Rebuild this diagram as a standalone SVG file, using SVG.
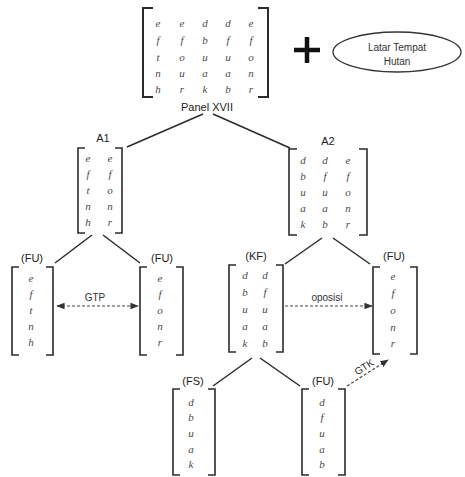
<svg xmlns="http://www.w3.org/2000/svg" width="465" height="477" viewBox="0 0 465 477">
  <style>
    .br { fill: none; stroke: #2b2b2b; stroke-width: 1.6; }
    .brt { fill: none; stroke: #2b2b2b; stroke-width: 2; }
    .v { font-family: "Liberation Serif", "DejaVu Serif", serif; font-style: italic; font-size: 11px; fill: #4a4a4a; text-anchor: middle; dominant-baseline: central; }
    .lb { font-family: "Liberation Sans", Arial, sans-serif; font-size: 11px; fill: #222; text-anchor: middle; dominant-baseline: central; }
    .sm { font-family: "Liberation Sans", Arial, sans-serif; font-size: 10px; fill: #333; text-anchor: middle; dominant-baseline: central; }
    .edge { stroke: #2b2b2b; stroke-width: 1.5; fill: none; }
    .dash { stroke: #444; stroke-width: 1.2; stroke-dasharray: 3 2; fill: none; }
  </style>
  <defs>
    <marker id="ah" viewBox="0 0 10 10" refX="9" refY="5" markerWidth="7" markerHeight="7" orient="auto-start-reverse">
      <path d="M0,1 L10,5 L0,9 z" fill="#333"/>
    </marker>
  </defs>

  <!-- root matrix -->
  <g id="panel">
    <path class="brt" d="M153,8 H143 V97 H153"/>
    <path class="brt" d="M258,8 H268 V97 H258"/>
    <text class="v" x="158" y="23">e</text><text class="v" x="182" y="23">e</text><text class="v" x="205" y="23">d</text><text class="v" x="228" y="23">d</text><text class="v" x="251" y="23">e</text>
    <text class="v" x="158" y="40">f</text><text class="v" x="182" y="40">f</text><text class="v" x="205" y="40">b</text><text class="v" x="228" y="40">f</text><text class="v" x="251" y="40">f</text>
    <text class="v" x="158" y="57">t</text><text class="v" x="182" y="57">o</text><text class="v" x="205" y="57">u</text><text class="v" x="228" y="57">u</text><text class="v" x="251" y="57">o</text>
    <text class="v" x="158" y="73">n</text><text class="v" x="182" y="73">u</text><text class="v" x="205" y="73">a</text><text class="v" x="228" y="73">a</text><text class="v" x="251" y="73">n</text>
    <text class="v" x="158" y="89">h</text><text class="v" x="182" y="89">r</text><text class="v" x="205" y="89">k</text><text class="v" x="228" y="89">b</text><text class="v" x="251" y="89">r</text>
    <text class="lb" x="207" y="107">Panel XVII</text>
  </g>

  <!-- plus sign -->
  <g id="plus">
    <path d="M294,50 H320 M307,37 V63" stroke="#111" stroke-width="4.5" fill="none"/>
  </g>

  <!-- setting -->
  <g id="setting">
    <ellipse cx="397" cy="52" rx="64" ry="20" fill="#fff" stroke="#333" stroke-width="1.3"/>
    <text class="sm" x="397" y="47">Latar Tempat</text>
    <text class="sm" x="397" y="61">Hutan</text>
  </g>

  <!-- connectors -->
  <g id="connectors">
    <path class="edge" d="M203,114 L127,147"/>
    <path class="edge" d="M213,114 L290,148"/>
    <path class="edge" d="M92,235 L55,263"/>
    <path class="edge" d="M103,235 L140,263"/>
    <path class="edge" d="M322,238 L285,264"/>
    <path class="edge" d="M333,238 L370,264"/>
    <path class="edge" d="M252,358 L213,386"/>
    <path class="edge" d="M260,358 L300,386"/>
    <path class="dash" d="M57,306 H138" marker-start="url(#ah)" marker-end="url(#ah)"/>
    <text class="sm" x="95" y="297">GTP</text>
    <path class="dash" d="M285,306 H372" marker-end="url(#ah)"/>
    <text class="sm" x="327" y="297">oposisi</text>
    <path class="dash" d="M347,386 L388,360" marker-end="url(#ah)"/>
    <text class="sm" x="364" y="367" transform="rotate(-32 364 367)">GTK</text>
  </g>

  <!-- A1 -->
  <g id="a1">
    <text class="lb" x="103" y="138">A1</text>
    <path class="br" d="M85,148 H78 V233 H85"/>
    <path class="br" d="M115,148 H122 V233 H115"/>
    <text class="v" x="88" y="158">e</text><text class="v" x="110" y="158">e</text>
    <text class="v" x="88" y="174">f</text><text class="v" x="110" y="174">f</text>
    <text class="v" x="88" y="190">t</text><text class="v" x="110" y="190">o</text>
    <text class="v" x="88" y="206">n</text><text class="v" x="110" y="206">n</text>
    <text class="v" x="88" y="222">h</text><text class="v" x="110" y="222">r</text>
  </g>

  <!-- A2 -->
  <g id="a2">
    <text class="lb" x="328" y="141">A2</text>
    <path class="br" d="M297,149 H289 V235 H297"/>
    <path class="br" d="M359,149 H367 V235 H359"/>
    <text class="v" x="303" y="160">d</text><text class="v" x="325" y="160">d</text><text class="v" x="348" y="160">e</text>
    <text class="v" x="303" y="176">b</text><text class="v" x="325" y="176">f</text><text class="v" x="348" y="176">f</text>
    <text class="v" x="303" y="192">u</text><text class="v" x="325" y="192">u</text><text class="v" x="348" y="192">o</text>
    <text class="v" x="303" y="208">a</text><text class="v" x="325" y="208">a</text><text class="v" x="348" y="208">n</text>
    <text class="v" x="303" y="224">k</text><text class="v" x="325" y="224">b</text><text class="v" x="348" y="224">r</text>
  </g>

  <!-- FU under A1, left -->
  <g id="fu1">
    <text class="lb" x="32" y="258">(FU)</text>
    <path class="br" d="M19,267 H12 V355 H19"/>
    <path class="br" d="M46,267 H53 V355 H46"/>
    <text class="v" x="31" y="278">e</text>
    <text class="v" x="31" y="294">f</text>
    <text class="v" x="31" y="310">t</text>
    <text class="v" x="31" y="326">n</text>
    <text class="v" x="31" y="342">h</text>
  </g>

  <!-- FU under A1, right -->
  <g id="fu2">
    <text class="lb" x="162" y="258">(FU)</text>
    <path class="br" d="M147,267 H140 V355 H147"/>
    <path class="br" d="M176,267 H183 V355 H176"/>
    <text class="v" x="160" y="278">e</text>
    <text class="v" x="160" y="294">f</text>
    <text class="v" x="160" y="310">o</text>
    <text class="v" x="160" y="326">n</text>
    <text class="v" x="160" y="342">r</text>
  </g>

  <!-- KF under A2 -->
  <g id="kf">
    <text class="lb" x="256" y="256">(KF)</text>
    <path class="br" d="M236,265 H229 V352 H236"/>
    <path class="br" d="M276,265 H283 V352 H276"/>
    <text class="v" x="245" y="275">d</text><text class="v" x="265" y="275">d</text>
    <text class="v" x="245" y="292">b</text><text class="v" x="265" y="292">f</text>
    <text class="v" x="245" y="309">u</text><text class="v" x="265" y="309">u</text>
    <text class="v" x="245" y="326">a</text><text class="v" x="265" y="326">a</text>
    <text class="v" x="245" y="343">k</text><text class="v" x="265" y="343">b</text>
  </g>

  <!-- FU under A2 -->
  <g id="fu3">
    <text class="lb" x="394" y="256">(FU)</text>
    <path class="br" d="M380,267 H373 V354 H380"/>
    <path class="br" d="M410,267 H417 V354 H410"/>
    <text class="v" x="393" y="276">e</text>
    <text class="v" x="393" y="293">f</text>
    <text class="v" x="393" y="310">o</text>
    <text class="v" x="393" y="327">n</text>
    <text class="v" x="393" y="343">r</text>
  </g>

  <!-- FS under KF -->
  <g id="fs">
    <text class="lb" x="193" y="381">(FS)</text>
    <path class="br" d="M180,389 H173 V475 H180"/>
    <path class="br" d="M208,389 H215 V475 H208"/>
    <text class="v" x="191" y="402">d</text>
    <text class="v" x="191" y="417">b</text>
    <text class="v" x="191" y="433">u</text>
    <text class="v" x="191" y="449">a</text>
    <text class="v" x="191" y="464">k</text>
  </g>

  <!-- FU under KF -->
  <g id="fu4">
    <text class="lb" x="323" y="381">(FU)</text>
    <path class="br" d="M309,389 H302 V475 H309"/>
    <path class="br" d="M338,389 H345 V475 H338"/>
    <text class="v" x="322" y="402">d</text>
    <text class="v" x="322" y="417">f</text>
    <text class="v" x="322" y="433">u</text>
    <text class="v" x="322" y="449">a</text>
    <text class="v" x="322" y="464">b</text>
  </g>
</svg>
